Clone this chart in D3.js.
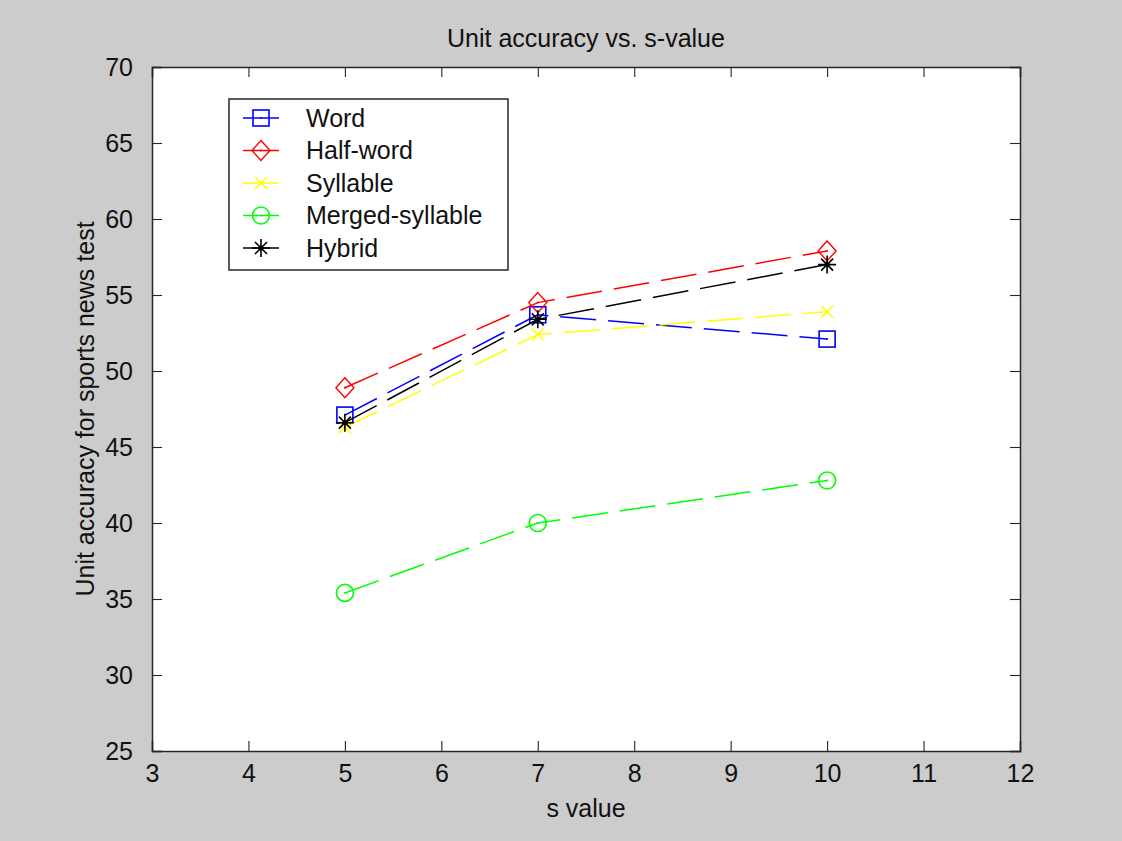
<!DOCTYPE html>
<html>
<head>
<meta charset="utf-8">
<script src="https://cdn.jsdelivr.net/npm/d3@7"></script>
<style>
  body { margin: 0; background: #cccccc; }
  svg { display: block; font-family: "Liberation Sans", Arial, sans-serif; }
</style>
</head>
<body>
<div id="chart"></div>
<script>
// data
const sValues = [5, 7, 10];
const seriesNames = ["Word", "Half-word", "Syllable", "Merged-syllable", "Hybrid"];
const word = [47.1, 53.7, 52.1];
const halfWord = [48.9, 54.5, 57.9];
const syllable = [46.3, 52.4, 53.9];
const mergedSyllable = [35.4, 40.0, 42.8];
const hybrid = [46.6, 53.4, 57.0];
const xTicks = [3, 4, 5, 6, 7, 8, 9, 10, 11, 12];
const yTicks = [25, 30, 35, 40, 45, 50, 55, 60, 65, 70];

const seriesValues = [word, halfWord, syllable, mergedSyllable, hybrid];
const colors = ["#0000ff", "#ff0000", "#ffff00", "#00ff00", "#000000"];
const markers = ["square", "diamond", "x", "circle", "star"];

const width = 1122, height = 841;
const margin = {top: 67, right: 102, bottom: 90, left: 152};
const w = width - margin.left - margin.right,
    h = height - margin.top - margin.bottom;

const svg = d3.select('#chart')
    .append('svg')
    .attr('width', width)
    .attr('height', height);

svg.append('rect')
    .attr('width', width)
    .attr('height', height)
    .attr('fill', '#cccccc');

const g = svg.append('g')
    .attr('transform', 'translate(' + margin.left + ',' + margin.top + ')');

const x = d3.scaleLinear().domain([3, 12]).range([0, w]);
const y = d3.scaleLinear().domain([25, 70]).range([h, 0]);

g.append('rect')
    .attr('width', w)
    .attr('height', h)
    .attr('fill', '#ffffff');

const tickLen = 10;
const axisColor = '#262626';
const font = 25;

// axes (MATLAB box style, ticks inward on all four sides)
const xAxis = g.append('g')
    .attr('transform', 'translate(0,' + h + ')')
    .call(d3.axisBottom(x).tickValues(xTicks).tickSize(-tickLen).tickPadding(tickLen + 7));
const xTop = g.append('g')
    .call(d3.axisTop(x).tickValues(xTicks).tickSize(-tickLen).tickFormat(''));
const yAxis = g.append('g')
    .call(d3.axisLeft(y).tickValues(yTicks).tickSize(-tickLen).tickPadding(tickLen + 9));
const yRight = g.append('g')
    .attr('transform', 'translate(' + w + ',0)')
    .call(d3.axisRight(y).tickValues(yTicks).tickSize(-tickLen).tickFormat(''));

[xAxis, xTop, yAxis, yRight].forEach(a => {
    a.select('.domain').attr('stroke', axisColor).attr('stroke-width', 1.5);
    a.selectAll('.tick line').attr('stroke', axisColor).attr('stroke-width', 1.1);
    a.selectAll('text')
        .attr('font-size', font)
        .attr('fill', '#111')
        .attr('font-family', '"Liberation Sans", Arial, sans-serif');
});
xAxis.selectAll('text').attr('dy', '0.55em');
yAxis.selectAll('text').attr('dy', '0.35em');

// marker drawing
const drawMarker = (sel, type, color) => {
    if (type === 'square') {
        sel.append('rect').attr('x', -8).attr('y', -8).attr('width', 16).attr('height', 16)
            .attr('fill', 'none').attr('stroke', color).attr('stroke-width', 1.6);
        sel.append('circle').attr('r', 1).attr('fill', color);
    } else if (type === 'diamond') {
        sel.append('path').attr('d', 'M0,-10L9,0L0,10L-9,0Z')
            .attr('fill', 'none').attr('stroke', color).attr('stroke-width', 1.4);
        sel.append('circle').attr('r', 1).attr('fill', color);
    } else if (type === 'circle') {
        sel.append('circle').attr('r', 8.5)
            .attr('fill', 'none').attr('stroke', color).attr('stroke-width', 1.6);
        sel.append('circle').attr('r', 1).attr('fill', color);
    } else if (type === 'x') {
        sel.append('path').attr('d', 'M-6,-6L6,6M-6,6L6,-6')
            .attr('stroke', color).attr('stroke-width', 1.6);
    } else if (type === 'star') {
        sel.append('path').attr('d', 'M0,-9V9M-9,0H9M-6,-6L6,6M-6,6L6,-6')
            .attr('stroke', color).attr('stroke-width', 1.6);
        sel.append('circle').attr('r', 2.5).attr('fill', color);
    }
};

const line = d3.line()
    .x(d => x(d[0]))
    .y(d => y(d[1]));

seriesValues.forEach((vals, i) => {
    const pts = sValues.map((s, j) => [s, vals[j]]);
    g.append('path')
        .datum(pts)
        .attr('d', line)
        .attr('fill', 'none')
        .attr('stroke', colors[i])
        .attr('stroke-width', 1.5)
        .attr('stroke-dasharray', '36,12');

    pts.forEach(p => {
        const m = g.append('g')
            .attr('transform', 'translate(' + x(p[0]) + ',' + y(p[1]) + ')');
        drawMarker(m, markers[i], colors[i]);
    });
});

// legend
const legend = g.append('g')
    .attr('transform', 'translate(' + (229 - margin.left) + ',' + (99 - margin.top) + ')');
legend.append('rect')
    .attr('width', 279)
    .attr('height', 171)
    .attr('fill', '#ffffff')
    .attr('stroke', axisColor)
    .attr('stroke-width', 1.5);

seriesNames.forEach((name, i) => {
    const row = legend.append('g')
        .attr('transform', 'translate(0,' + (19 + i * 32.5) + ')');
    row.append('line')
        .attr('x1', 14).attr('x2', 50)
        .attr('stroke', colors[i]).attr('stroke-width', 1.5);
    const m = row.append('g').attr('transform', 'translate(32,0)');
    drawMarker(m, markers[i], colors[i]);
    row.append('text')
        .attr('x', 77)
        .attr('dy', '0.35em')
        .attr('font-size', font)
        .attr('fill', '#111')
        .text(name);
});

// title and axis labels
svg.append('text')
    .attr('x', margin.left + w / 2)
    .attr('y', 47)
    .attr('text-anchor', 'middle')
    .attr('font-size', font)
    .attr('fill', '#111')
    .text('Unit accuracy vs. s-value');

svg.append('text')
    .attr('x', margin.left + w / 2)
    .attr('y', 817)
    .attr('text-anchor', 'middle')
    .attr('font-size', font)
    .attr('fill', '#111')
    .text('s value');

svg.append('text')
    .attr('transform', 'translate(94,' + (margin.top + h / 2) + ') rotate(-90)')
    .attr('text-anchor', 'middle')
    .attr('font-size', font)
    .attr('fill', '#111')
    .text('Unit accuracy for sports news test');
</script>
</body>
</html>
